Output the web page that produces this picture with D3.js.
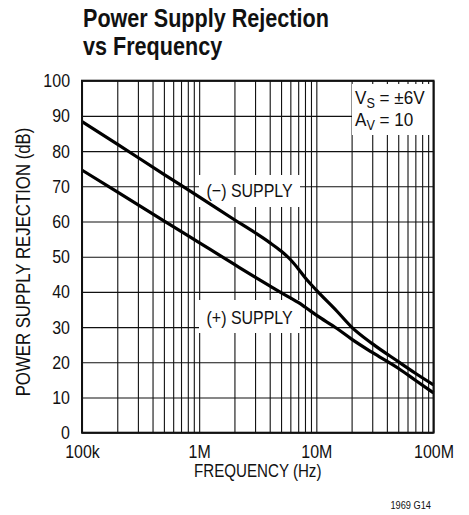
<!DOCTYPE html>
<html>
<head>
<meta charset="utf-8">
<script src="https://cdn.jsdelivr.net/npm/d3@7"></script>
<style>
  body { margin: 0; background: #fff; }
  svg text { font-family: "Liberation Sans", Arial, sans-serif; fill: #111; }
</style>
</head>
<body>
<svg id="chart" width="469" height="515"></svg>
<script>
// frequency points (Hz)
const freqs = [1e5, 2e5, 5e5, 1e6, 2e6, 3e6, 4e6, 5e6, 6e6, 7e6, 8e6, 1e7, 1.5e7, 2e7, 3e7, 5e7, 7e7, 1e8];
const negSupply = [88.4, 82.0, 73.4, 67.0, 60.5, 56.8, 54.0, 51.6, 49.2, 46.6, 44.1, 40.5, 34.5, 30.0, 25.3, 20.2, 16.9, 13.6];
const posSupply = [74.6, 68.4, 60.2, 54.0, 47.8, 44.2, 41.7, 39.8, 38.3, 37.0, 35.7, 33.4, 29.6, 26.6, 22.8, 18.3, 14.9, 11.3];

const xTickValues = [1e5, 1e6, 1e7, 1e8];
const xTickLabels = ['100k', '1M', '10M', '100M'];
const yTickValues = [0, 10, 20, 30, 40, 50, 60, 70, 80, 90, 100];

const svg = d3.select('#chart');
const pLeft = 82, pRight = 433.5, pTop = 80.7, pBottom = 432.7;

const x = d3.scaleLog().domain([1e5, 1e8]).range([pLeft, pRight]);
const y = d3.scaleLinear().domain([0, 100]).range([pBottom, pTop]);

// squeeze text so it looks like the narrow face of the original
function narrow(sel, k = 0.84) {
    sel.each(function () {
        const w = this.getComputedTextLength();
        d3.select(this).attr('textLength', w * k).attr('lengthAdjust', 'spacingAndGlyphs');
    });
}

// grid lines, every 1..9 per decade
const gridX = [];
for (let d = 1e5; d < 1e8; d *= 10) {
    for (let k = 1; k < 10; k++) gridX.push(d * k);
}
gridX.push(1e8);

const grid = svg.append('g');
grid.append('g')
    .attr('transform', `translate(0,${pBottom})`)
    .call(d3.axisBottom(x).tickValues(gridX).tickSize(-(pBottom - pTop)).tickFormat(''))
    .call(g => g.select('.domain').remove())
    .call(g => g.selectAll('line').attr('stroke', '#111').attr('stroke-width', 1.1));
grid.append('g')
    .attr('transform', `translate(${pLeft},0)`)
    .call(d3.axisLeft(y).tickValues(yTickValues).tickSize(-(pRight - pLeft)).tickFormat(''))
    .call(g => g.select('.domain').remove())
    .call(g => g.selectAll('line').attr('stroke', '#111').attr('stroke-width', 1.1));

// white boxes behind the inline labels
const boxes = [
    {x0: 199, x1: 300, y0: 175, y1: 207},
    {x0: 199, x1: 300, y0: 300, y1: 333},
    {x0: 352, x1: pRight, y0: 84, y1: 135}
];
svg.append('g').selectAll('rect').data(boxes).enter().append('rect')
    .attr('x', d => d.x0).attr('y', d => d.y0)
    .attr('width', d => d.x1 - d.x0).attr('height', d => d.y1 - d.y0)
    .attr('fill', '#fff');

// curves
const line = d3.line()
    .x((d, i) => x(freqs[i]))
    .y(d => y(d))
    .curve(d3.curveMonotoneX);

svg.append('g').selectAll('path')
    .data([negSupply, posSupply])
    .enter().append('path')
    .attr('d', d => line(d))
    .attr('fill', 'none')
    .attr('stroke', '#000')
    .attr('stroke-width', 3.2);

// frame
svg.append('rect')
    .attr('x', pLeft).attr('y', pTop)
    .attr('width', pRight - pLeft).attr('height', pBottom - pTop)
    .attr('fill', 'none').attr('stroke', '#111').attr('stroke-width', 2);

// tick labels
svg.append('g')
    .attr('transform', `translate(0,${pBottom})`)
    .call(d3.axisBottom(x).tickValues(xTickValues).tickSize(0).tickPadding(12)
        .tickFormat((d, i) => xTickLabels[i]))
    .call(g => g.select('.domain').remove())
    .call(g => g.selectAll('text').style('font-size', '19px').call(narrow));

svg.append('g')
    .attr('transform', `translate(${pLeft},0)`)
    .call(d3.axisLeft(y).tickValues(yTickValues).tickSize(0).tickPadding(12))
    .call(g => g.select('.domain').remove())
    .call(g => g.selectAll('text').style('font-size', '19px').call(narrow));

// title
svg.append('text').attr('x', 83).attr('y', 27)
    .style('font-size', '26px').style('font-weight', 'bold')
    .text('Power Supply Rejection').call(narrow, 0.83);
svg.append('text').attr('x', 83).attr('y', 55)
    .style('font-size', '26px').style('font-weight', 'bold')
    .text('vs Frequency').call(narrow, 0.83);

// axis titles
svg.append('text')
    .attr('x', (pLeft + pRight) / 2).attr('y', 477)
    .attr('text-anchor', 'middle')
    .style('font-size', '18px')
    .text('FREQUENCY (Hz)').call(narrow);

svg.append('text')
    .attr('transform', 'translate(30,262) rotate(-90)')
    .attr('text-anchor', 'middle')
    .style('font-size', '19.5px')
    .text('POWER SUPPLY REJECTION (dB)').call(narrow, 0.86);

svg.append('text')
    .attr('x', 431).attr('y', 509)
    .attr('text-anchor', 'end')
    .style('font-size', '11px')
    .text('1969 G14').call(narrow);

// inline labels
svg.append('text').attr('x', 206.5).attr('y', 196.5)
    .style('font-size', '19px').text('(\u2212) SUPPLY').call(narrow);
svg.append('text').attr('x', 206.5).attr('y', 324)
    .style('font-size', '19px').text('(+) SUPPLY').call(narrow);

// test conditions, subscripts kept inside one text element
const cond1 = svg.append('text').attr('x', 355).attr('y', 103.5).style('font-size', '19px');
cond1.append('tspan').text('V');
cond1.append('tspan').attr('dy', 4).style('font-size', '14px').text('S');
cond1.append('tspan').attr('dy', -4).text(' = \u00B16V');
cond1.call(narrow, 0.9);

const cond2 = svg.append('text').attr('x', 355).attr('y', 125.5).style('font-size', '19px');
cond2.append('tspan').text('A');
cond2.append('tspan').attr('dy', 4).style('font-size', '14px').text('V');
cond2.append('tspan').attr('dy', -4).text(' = 10');
cond2.call(narrow, 0.9);
</script>
</body>
</html>
